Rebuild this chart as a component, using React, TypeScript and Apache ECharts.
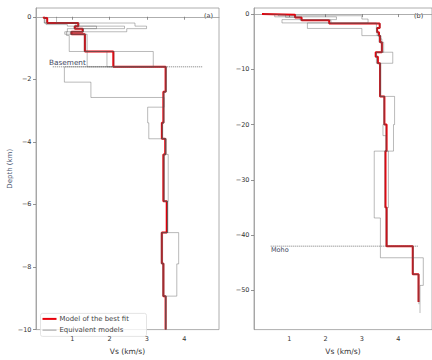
import React, { useEffect, useRef } from "react";
import * as echarts from "echarts";

// ---------- Panel (a) ----------
const aBestTops = [0, 0.04, 0.2, 0.3, 0.38, 0.48, 0.56, 1.11, 1.6, 2.4, 3.39, 3.9, 4.4, 5.9, 6.9, 7.89, 8.93];
const aBestVs = [0.24, 0.33, 1.16, 1.07, 1.28, 0.98, 1.34, 2.1, 3.5, 3.44, 3.4, 3.49, 3.44, 3.53, 3.4, 3.44, 3.5];
const aBase = 10;

const aEq1Tops = [0, 0.2, 0.3, 0.38, 0.48, 0.6, 1.11, 1.6, 2.09, 2.58, 2.89, 3.39, 3.9, 4.4, 5.9, 6.9, 7.9, 8.93];
const aEq1Vs = [0.58, 2.68, 2.99, 2.46, 0.85, 0.92, 3.17, 0.79, 1.5, 3.46, 3.02, 3.05, 3.52, 3.57, 3.55, 3.85, 3.8, 3.5];
const aEq2Tops = [0, 0.25, 0.3, 0.38, 0.48, 0.56, 1.6, 2.4, 3.39, 3.9, 4.4, 5.9, 6.9, 7.89, 8.93];
const aEq2Vs = [0.3, 0.87, 1.65, 0.87, 0.8, 1.4, 3.52, 3.46, 3.42, 3.5, 3.47, 3.56, 3.38, 3.46, 3.5];
const aEq3Tops = [0, 0.2, 0.3, 0.38, 0.48, 0.56, 1.11, 1.6, 2.4, 3.39, 3.9, 4.4, 5.9, 6.9, 7.89, 8.93];
const aEq3Vs = [0.26, 1.1, 2.4, 1.3, 0.95, 1.32, 1.93, 3.5, 3.45, 3.4, 3.5, 3.44, 3.55, 3.4, 3.42, 3.52];
const aEq4Tops = [0, 0.2, 0.3, 0.38, 0.48, 0.56, 1.11, 1.6, 2.4, 3.39, 3.9, 4.4, 5.9, 6.9, 7.89, 8.93];
const aEq4Vs = [0.25, 1.18, 1.05, 1.3, 0.97, 1.36, 2.12, 3.52, 3.45, 3.42, 3.5, 3.46, 3.55, 3.42, 3.44, 3.5];

const aBasementDepth = -1.6;
const aBasementVs = [0.48, 4.5];

// ---------- Panel (b) ----------
const bBestTops = [0, 0.1, 0.6, 1.1, 1.7, 2.5, 3.3, 3.9, 5.1, 6.9, 7.7, 8.9, 14.9, 20.0, 24.8, 35.0, 42.0, 47.1];
const bBestVs = [0.25, 1.16, 1.34, 2.1, 3.49, 3.42, 3.47, 3.5, 3.55, 3.38, 3.44, 3.5, 3.62, 3.68, 3.65, 3.68, 4.4, 4.56];
const bBase = 52.1;

const bEq1Tops = [0, 0.3, 0.9, 1.6, 2.6, 3.9, 5.1, 6.9, 8.9, 14.9, 20.0, 24.8, 36.9, 44.1, 49.1];
const bEq1Vs = [0.7, 3.0, 3.17, 1.5, 3.0, 3.47, 3.55, 3.85, 3.5, 3.9, 3.87, 3.34, 3.51, 4.69, 4.6];
const bEq1Base = 54.1;
const bEq2Tops = [0, 0.5, 1.0, 1.6, 2.7, 3.9, 4.5, 6.9, 8.9, 14.9, 20.0, 22.0, 24.8, 35.0, 42.0, 47.1];
const bEq2Vs = [0.6, 2.3, 0.8, 3.4, 3.42, 3.52, 3.55, 3.4, 3.5, 3.62, 3.58, 3.67, 3.73, 3.7, 4.4, 4.57];
const bEq2Base = 52.5;
const bEq3Vs = [0.3, 0.9, 1.3, 2.15, 3.5, 3.4, 3.45, 3.52, 3.6, 3.4, 3.42, 3.52, 3.6, 3.66, 3.63, 3.66, 4.42, 4.55];
const bEq3Base = 52.0;

const bMohoDepth = -42.0;
const bMohoVs = [0.49, 4.54];

// ---------- Ticks ----------
const xTicks = [1, 2, 3, 4];
const aYTicks = [0, -2, -4, -6, -8, -10];
const bYTicks = [0, -10, -20, -30, -40, -50];

function steps(tops: number[], vs: number[], base: number) {
  const pts: number[][] = [];
  for (let i = 0; i < tops.length; i++) {
    const bottom = i + 1 < tops.length ? tops[i + 1] : base;
    pts.push([vs[i], -tops[i]], [vs[i], -bottom]);
  }
  return pts;
}

const FONT = "DejaVu Sans";
const RED = "#e8000b";
const GRAY = "rgba(90,90,90,0.42)";

export default function App() {
  const ref = useRef<HTMLDivElement>(null);
  useEffect(() => {
    if (!ref.current) return;
    const chart = echarts.init(ref.current, undefined, { renderer: "svg" });
    const fmtY = (v: number) => (v === 0 ? "0" : v < 0 ? "\u2212" + Math.abs(v) : String(v));

    const xAx = (gi: number) => ({
      type: "value",
      gridIndex: gi,
      min: 0.03,
      max: 4.93,
      name: "Vs (km/s)",
      nameLocation: "middle",
      nameGap: 15,
      nameTextStyle: { fontFamily: FONT, fontSize: 7.5, color: "#333" },
      axisLine: { show: true, lineStyle: { color: "#999", width: 0.8 } },
      axisTick: { show: true, length: 3, customValues: xTicks, lineStyle: { color: "#777", width: 0.8 } },
      axisLabel: { customValues: xTicks, margin: 5.5, fontFamily: FONT, fontSize: 6.5, color: "#333" },
      splitLine: { show: false },
    });
    const yAx = (gi: number, min: number, max: number, ticks: number[], name: string) => ({
      type: "value",
      gridIndex: gi,
      min,
      max,
      name,
      nameLocation: "middle",
      nameRotate: 90,
      nameGap: 17,
      nameTextStyle: { fontFamily: FONT, fontSize: 7, color: "#4a5570" },
      axisLine: { show: true, lineStyle: { color: "#999", width: 0.8 } },
      axisTick: { show: true, length: 3, customValues: ticks, lineStyle: { color: "#777", width: 0.8 } },
      axisLabel: { customValues: ticks, margin: 4.5, fontFamily: FONT, fontSize: 6.5, color: "#333", formatter: fmtY },
      splitLine: { show: false },
    });

    const grayLine = (data: number[][], gi: number) => ({
      type: "line",
      xAxisIndex: gi,
      yAxisIndex: gi,
      data,
      symbol: "none",
      silent: true,
      clip: true,
      z: 4,
      lineStyle: { color: GRAY, width: 1 },
    });
    const redLine = (data: number[][], gi: number) => ({
      type: "line",
      xAxisIndex: gi,
      yAxisIndex: gi,
      data,
      symbol: "none",
      silent: true,
      clip: true,
      z: 3,
      lineStyle: { color: RED, width: 2 },
    });
    const dotted = (vs: number[], depth: number, gi: number) => ({
      type: "line",
      xAxisIndex: gi,
      yAxisIndex: gi,
      data: vs.map((v) => [v, depth]),
      symbol: "none",
      silent: true,
      z: 2,
      lineStyle: { color: "#555", width: 0.8, type: [1, 1] },
    });

    chart.setOption({
      animation: false,
      backgroundColor: "#fff",
      grid: [
        { left: 36, top: 8, width: 183, height: 331, show: true, borderColor: "#999", borderWidth: 0.8, backgroundColor: "transparent" },
        { left: 254, top: 8, width: 183, height: 331, show: true, borderColor: "#999", borderWidth: 0.8, backgroundColor: "transparent" },
      ],
      xAxis: [xAx(0), xAx(1)],
      yAxis: [yAx(0, -10, 0.28, aYTicks, "Depth (km)"), yAx(1, -57.1, 1.1, bYTicks, "")],
      series: [
        dotted(aBasementVs, aBasementDepth, 0),
        redLine(steps(aBestTops, aBestVs, aBase), 0),
        grayLine(steps(aEq1Tops, aEq1Vs, aBase), 0),
        grayLine(steps(aEq2Tops, aEq2Vs, aBase), 0),
        grayLine(steps(aEq3Tops, aEq3Vs, aBase), 0),
        grayLine(steps(aEq4Tops, aEq4Vs, aBase), 0),
        dotted(bMohoVs, bMohoDepth, 1),
        redLine(steps(bBestTops, bBestVs, bBase), 1),
        grayLine(steps(bEq1Tops, bEq1Vs, bEq1Base), 1),
        grayLine(steps(bEq2Tops, bEq2Vs, bEq2Base), 1),
        grayLine(steps(bBestTops, bEq3Vs, bEq3Base), 1),
      ],
      graphic: [
        { type: "text", left: 204, top: 12, style: { text: "(a)", fontFamily: FONT, fontSize: 6.5, fill: "#333" } },
        { type: "text", left: 414, top: 12, style: { text: "(b)", fontFamily: FONT, fontSize: 6.5, fill: "#333" } },
        { type: "text", left: 49, top: 59, style: { text: "Basement", fontFamily: FONT, fontSize: 7.3, fill: "#3d4660" } },
        { type: "text", left: 271, top: 246.5, style: { text: "Moho", fontFamily: FONT, fontSize: 6.5, fill: "#3d4660" } },
        {
          type: "group",
          left: 40,
          top: 313,
          children: [
            { type: "rect", shape: { x: 0, y: 0, width: 106, height: 23, r: 2 }, style: { fill: "rgba(255,255,255,0.8)", stroke: "#ddd", lineWidth: 0.8 } },
            { type: "line", shape: { x1: 2, y1: 5.5, x2: 16, y2: 5.5 }, style: { stroke: RED, lineWidth: 2 } },
            { type: "text", x: 19, y: 5.5, style: { text: "Model of the best fit", fontFamily: FONT, fontSize: 6.9, fill: "#444", verticalAlign: "middle" } },
            { type: "line", shape: { x1: 2, y1: 16.7, x2: 16, y2: 16.7 }, style: { stroke: "#999", lineWidth: 1 } },
            { type: "text", x: 19, y: 16.7, style: { text: "Equivalent models", fontFamily: FONT, fontSize: 6.9, fill: "#444", verticalAlign: "middle" } },
          ],
        },
      ],
    });
    return () => chart.dispose();
  }, []);
  return <div ref={ref} style={{ position: "fixed", left: 0, top: 0, width: 432, height: 360, background: "#fff" }} />;
}
